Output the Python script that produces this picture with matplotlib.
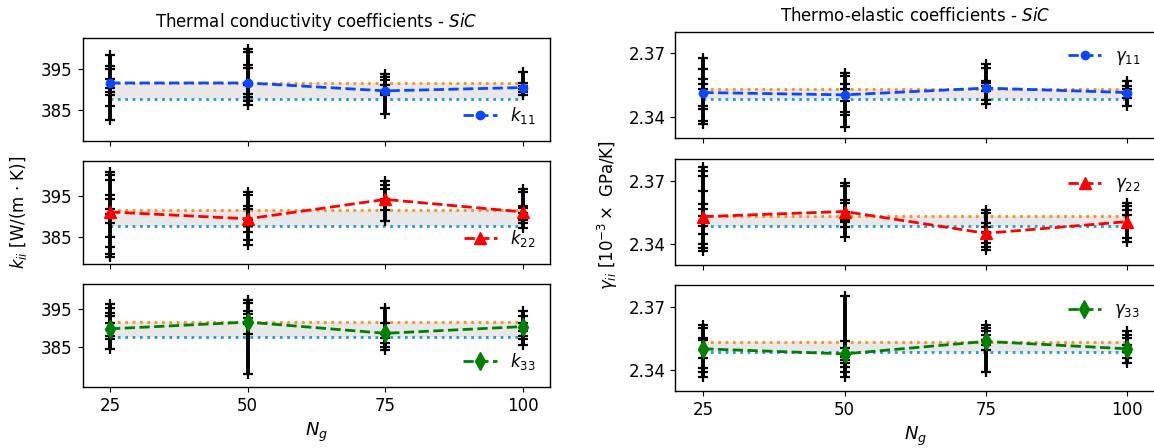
import numpy as np
import matplotlib as mpl
mpl.use('Agg')
import matplotlib.pyplot as plt

mpl.rc('font', size=12)
mpl.rc('axes', linewidth=1.0)
mpl.rc('legend', fontsize=12)

# --- data ---
Ng = [25, 50, 75, 100]

# thermal conductivity (W/(m K))
k_upper, k_lower = 391.5, 387.7
k11 = [391.6, 391.6, 389.7, 390.5]
k22 = [391.1, 389.4, 394.2, 391.1]
k33 = [389.8, 391.6, 388.6, 390.4]
k11_samples = [[398.3, 395.6, 395.0, 392.5, 390.3, 389.5, 388.8, 386.0, 382.8],
               [399.8, 399.0, 396.0, 395.2, 391.0, 389.0, 388.2, 387.2, 386.2],
               [393.7, 393.0, 392.2, 391.0, 389.2, 388.7, 384.1],
               [394.3, 391.7, 390.9, 390.2, 389.4, 388.7]]
k22_samples = [[401.1, 400.3, 399.0, 395.2, 394.3, 391.8, 390.5, 388.4, 385.0, 382.5, 380.8, 379.9],
               [396.0, 395.2, 392.6, 391.8, 389.2, 387.5, 386.2, 384.1, 382.9],
               [398.7, 397.7, 396.9, 394.4, 393.6, 392.8, 391.5, 388.8],
               [396.9, 396.0, 392.6, 392.2, 390.9, 389.2, 388.4, 387.1]]
k33_samples = [[396.5, 395.4, 394.1, 393.2, 391.4, 387.9, 387.0, 384.3],
               [397.5, 396.8, 394.6, 393.7, 392.8, 391.0, 388.4, 377.7],
               [395.4, 391.4, 388.3, 387.4, 386.1, 384.8, 384.1],
               [394.6, 393.2, 391.4, 389.2, 387.9, 387.0, 385.6]]
k_ylims = [(377.6, 402.4), (378.25, 403.75), (374.2, 401.8)]

# thermo-elastic (1e-3 GPa/K)
g_upper, g_lower = 2.3532, 2.3485
g11 = [2.3515, 2.3504, 2.3536, 2.3515]
g22 = [2.3530, 2.3554, 2.3451, 2.3506]
g33 = [2.3500, 2.3476, 2.3535, 2.3500]
g11_samples = [[2.3676, 2.3624, 2.3580, 2.3557, 2.3532, 2.3449, 2.3436, 2.3381, 2.3368],
               [2.3609, 2.3593, 2.3553, 2.3532, 2.3473, 2.3424, 2.3408, 2.3352],
               [2.3649, 2.3633, 2.3568, 2.3560, 2.3544, 2.3520, 2.3480, 2.3461],
               [2.3568, 2.3548, 2.3532, 2.3509, 2.3488, 2.3451]]
g22_samples = [[2.3763, 2.3744, 2.3724, 2.3652, 2.3589, 2.3565, 2.3533, 2.3509, 2.3486,
                2.3446, 2.3398, 2.3382, 2.3367],
               [2.3689, 2.3673, 2.3610, 2.3594, 2.3554, 2.3514, 2.3506, 2.3482, 2.3435],
               [2.3562, 2.3546, 2.3498, 2.3482, 2.3459, 2.3403, 2.3387, 2.3371],
               [2.3594, 2.3578, 2.3562, 2.3538, 2.3427, 2.3411]]
g33_samples = [[2.3614, 2.3598, 2.3551, 2.3543, 2.3495, 2.3455, 2.3408, 2.3392, 2.3368],
               [2.3749, 2.3535, 2.3503, 2.3463, 2.3448, 2.3432, 2.3416, 2.3392, 2.3368],
               [2.3614, 2.3598, 2.3582, 2.3567, 2.3543, 2.3519, 2.3495, 2.3392],
               [2.3582, 2.3567, 2.3551, 2.3519, 2.3487, 2.3455, 2.3432]]

blue = '#0a47ff'
red = '#ff0000'
green = '#008000'
orange = '#ff8c1a'
cyan = '#1f9ad6'


def panel(ax, mean, samples, upper, lower, color, marker, ms, label, legloc):
    ax.fill_between(Ng, lower, upper, color='#e6e6e6', alpha=0.9, lw=0)
    ax.plot(Ng, [upper]*len(Ng), ':', color=orange, lw=2)
    ax.plot(Ng, [lower]*len(Ng), ':', color=cyan, lw=2)
    for x, s in zip(Ng, samples):
        ax.vlines(x, min(s), max(s), color='k', lw=2.8)
        ax.plot([x]*len(s), s, 'k+', ms=7.5, mew=1.6)
    ax.plot(Ng, mean, '--', color=color, marker=marker, ms=ms, lw=2, label=label)
    ax.legend(loc=legloc, frameon=False, handlelength=2.0)
    ax.set_xlim(20, 105)
    ax.set_xticks(Ng)


fig = plt.figure(figsize=(11.54, 4.48), dpi=100)

# left column: thermal conductivity
lb = [0.685, 0.411, 0.136]
lh = 0.230
axl = [fig.add_axes([0.0715, b, 0.4055, lh]) for b in lb]
panel(axl[0], k11, k11_samples, k_upper, k_lower, blue, 'o', 6, r'$k_{11}$', 'lower right')
panel(axl[1], k22, k22_samples, k_upper, k_lower, red, '^', 9, r'$k_{22}$', 'lower right')
panel(axl[2], k33, k33_samples, k_upper, k_lower, green, 'd', 9, r'$k_{33}$', 'lower right')
for ax, yl in zip(axl, k_ylims):
    ax.set_ylim(yl)
    ax.set_yticks([385, 395])
for ax in axl[:2]:
    ax.set_xticklabels([])
axl[0].set_title(r'Thermal conductivity coefficients - $SiC$', fontsize=12, pad=8)
axl[2].set_xlabel(r'$N_g$', fontsize=13)
fig.text(0.016, 0.527, r'$k_{ii}$ [W/(m $\cdot$ K)]', rotation=90,
         ha='center', va='center', fontsize=12)

# right column: thermo-elastic
rb = [0.692, 0.408, 0.127]
rh = 0.236
axr = [fig.add_axes([0.585, b, 0.416, rh]) for b in rb]
panel(axr[0], g11, g11_samples, g_upper, g_lower, blue, 'o', 6, r'$\gamma_{11}$', 'upper right')
panel(axr[1], g22, g22_samples, g_upper, g_lower, red, '^', 9, r'$\gamma_{22}$', 'upper right')
panel(axr[2], g33, g33_samples, g_upper, g_lower, green, 'd', 9, r'$\gamma_{33}$', 'upper right')
for ax in axr:
    ax.set_ylim(2.33, 2.38)
    ax.set_yticks([2.34, 2.37])
for ax in axr[:2]:
    ax.set_xticklabels([])
axr[0].set_title(r'Thermo-elastic coefficients - $SiC$', fontsize=12, pad=8)
axr[2].set_xlabel(r'$N_g$', fontsize=13)
fig.text(0.527, 0.52, r'$\gamma_{ii}$ [$10^{-3}\times$ GPa/K]', rotation=90,
         ha='center', va='center', fontsize=12)

fig.savefig('out.png', dpi=100)
